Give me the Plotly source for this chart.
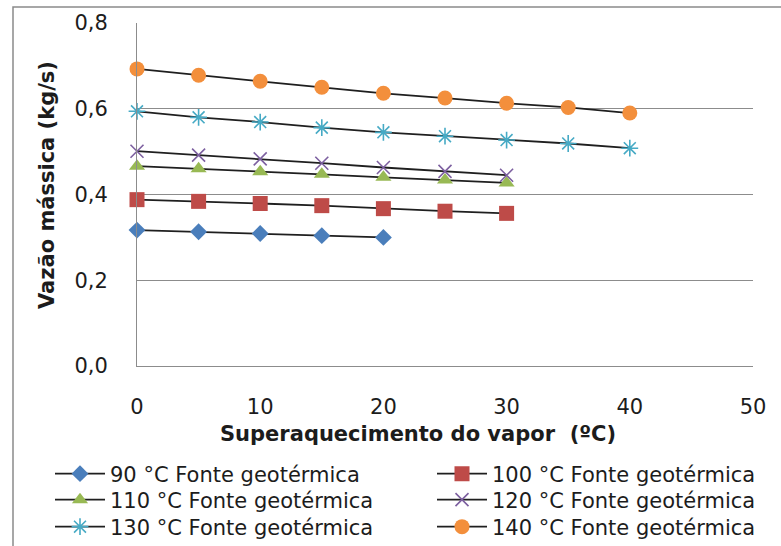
import plotly.graph_objects as go

# Superheating of the vapour (°C) and mass flow rate (kg/s) per geothermal source temperature
superaquecimento_90 = [0, 5, 10, 15, 20]
vazao_90 = [0.317, 0.313, 0.309, 0.304, 0.300]

superaquecimento_100 = [0, 5, 10, 15, 20, 25, 30]
vazao_100 = [0.388, 0.384, 0.379, 0.374, 0.367, 0.361, 0.356]

superaquecimento_110 = [0, 5, 10, 15, 20, 25, 30]
vazao_110 = [0.466, 0.460, 0.453, 0.447, 0.440, 0.434, 0.427]

superaquecimento_120 = [0, 5, 10, 15, 20, 25, 30]
vazao_120 = [0.501, 0.492, 0.483, 0.473, 0.463, 0.454, 0.445]

superaquecimento_130 = [0, 5, 10, 15, 20, 25, 30, 35, 40]
vazao_130 = [0.594, 0.580, 0.569, 0.556, 0.545, 0.536, 0.527, 0.519, 0.508]

superaquecimento_140 = [0, 5, 10, 15, 20, 25, 30, 35, 40]
vazao_140 = [0.693, 0.678, 0.664, 0.650, 0.636, 0.625, 0.613, 0.603, 0.590]

legend_names = [
    "90 °C Fonte geotérmica",
    "100 °C Fonte geotérmica",
    "110 °C Fonte geotérmica",
    "120 °C Fonte geotérmica",
    "130 °C Fonte geotérmica",
    "140 °C Fonte geotérmica",
]
x_ticks = [0, 10, 20, 30, 40, 50]
y_ticks = [0.0, 0.2, 0.4, 0.6, 0.8]

FONT = "'DejaVu Sans', sans-serif"
TEXT = "#1c1c1c"
GRID = "#8c8c8c"

# plot area in pixels (left, right, top, bottom)
PL, PR, PT, PB = 137, 753, 23, 366
PW, PH = PR - PL, PB - PT


def px_x(px):
    return (px - PL) / PW


def px_y(py):
    return (PB - py) / PH


series = [
    (superaquecimento_90, vazao_90, dict(symbol="diamond", size=13, color="#4a7ebb")),
    (superaquecimento_100, vazao_100, dict(symbol="square", size=15, color="#be4b48")),
    (superaquecimento_110, vazao_110, dict(symbol="triangle-up", size=14, color="#98b954")),
    (superaquecimento_120, vazao_120, dict(symbol="x-thin-open", size=13, color="#7d60a0",
                                            line=dict(width=1.6, color="#7d60a0"))),
    (superaquecimento_130, vazao_130, dict(symbol="asterisk-open", size=14, color="#46aac5",
                                            line=dict(width=1.6, color="#46aac5"))),
    (superaquecimento_140, vazao_140, dict(symbol="circle", size=15, color="#f38f3c")),
]

# two-column legend: (text start x, row centre y) in pixels for each entry
legend_slots = [(110, 474), (492, 474), (110, 500), (492, 500), (110, 527), (492, 527)]

fig = go.Figure()
legend_layouts = {}
for i, ((xs, ys, mk), name) in enumerate(zip(series, legend_names)):
    key = "legend" if i == 0 else f"legend{i + 1}"
    fig.add_trace(go.Scatter(
        x=xs, y=ys, name=name, mode="lines+markers",
        line=dict(color="#1f1f1f", width=1.8),
        marker=mk, cliponaxis=False, legend=key,
    ))
    tx, ty = legend_slots[i]
    legend_layouts[key] = dict(
        x=px_x(tx - 60), xanchor="left", y=px_y(ty), yanchor="middle",
        itemwidth=50, bgcolor="rgba(0,0,0,0)", borderwidth=0,
        font=dict(family=FONT, size=21, color=TEXT),
    )

fig.update_layout(
    width=781, height=546,
    margin=dict(l=PL, r=781 - PR, t=PT, b=546 - PB, autoexpand=False),
    paper_bgcolor="white", plot_bgcolor="white",
    separators=",.",
    font=dict(family=FONT, size=21, color=TEXT),
    showlegend=True,
    xaxis=dict(
        range=[0, 50], tickvals=x_ticks, ticktext=[str(v) for v in x_ticks],
        showgrid=False, zeroline=False, showline=True, linecolor=GRID, linewidth=1,
        ticks="", ticklabelstandoff=22,
        tickfont=dict(family=FONT, size=21, color=TEXT),
    ),
    yaxis=dict(
        range=[0, 0.8], tickvals=y_ticks, tickformat=".1f",
        showgrid=True, gridcolor=GRID, gridwidth=1,
        zeroline=False, showline=True, linecolor=GRID, linewidth=1,
        ticks="", ticklabelstandoff=24,
        tickfont=dict(family=FONT, size=21, color=TEXT),
    ),
    annotations=[
        dict(text="<b>Superaquecimento do vapor  (ºC)</b>", xref="paper", yref="paper",
             x=px_x(418), y=px_y(434), xanchor="center", yanchor="middle",
             showarrow=False, font=dict(family=FONT, size=21, color=TEXT)),
        dict(text="<b>Vazão mássica (kg/s)</b>", xref="paper", yref="paper",
             x=px_x(47), y=px_y(185), xanchor="center", yanchor="middle",
             textangle=-90, showarrow=False, font=dict(family=FONT, size=21, color=TEXT)),
    ],
    shapes=[
        # outer chart frame, open on the right and bottom edges of the page
        dict(type="rect", xref="paper", yref="paper",
             x0=px_x(13), x1=px_x(800), y0=px_y(560), y1=px_y(7),
             line=dict(color="#8a8a8a", width=1.5), fillcolor="rgba(0,0,0,0)", layer="below"),
    ],
    **legend_layouts,
)

fig.write_html("out.html")
